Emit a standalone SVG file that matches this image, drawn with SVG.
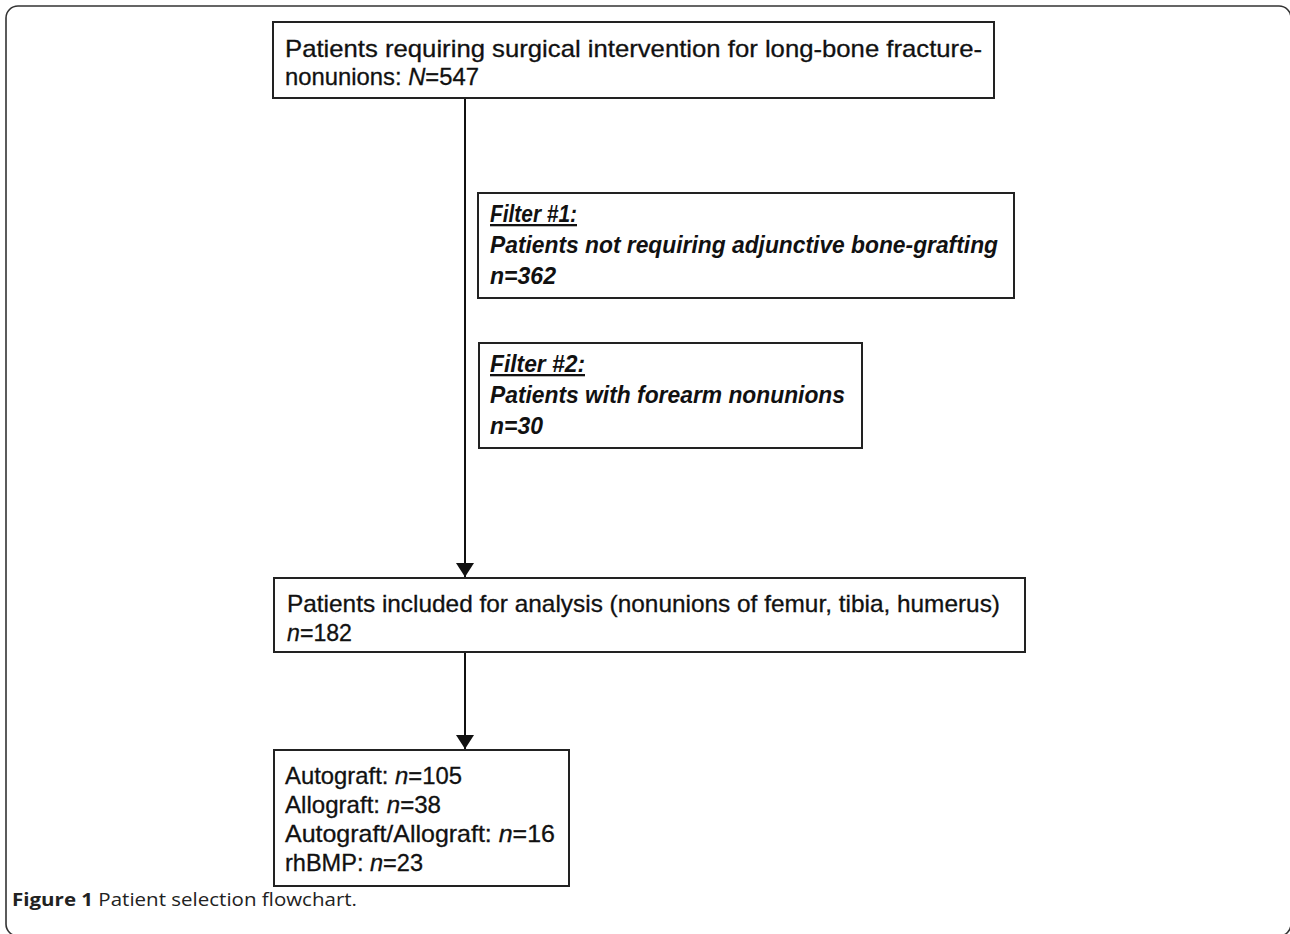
<svg xmlns="http://www.w3.org/2000/svg" width="1290" height="934" viewBox="0 0 1290 934">
<style>
.box{fill:#fff;stroke:#222;stroke-width:2}
.t{font-family:"Liberation Sans",Arial,sans-serif;font-size:24px;fill:#111;stroke:#111;stroke-width:0.3}
.f{font-family:"Liberation Sans",Arial,sans-serif;font-size:23px;font-weight:bold;font-style:italic;fill:#111}
.c{font-family:"Open Sans","Liberation Sans",sans-serif;font-size:18px;fill:#222}
.conn{stroke:#111;stroke-width:2;fill:none}
</style>
<defs>
<marker id="arr" viewBox="0 0 14 18" refX="14" refY="9" markerWidth="14" markerHeight="18" markerUnits="userSpaceOnUse" orient="auto">
<path d="M0,0 L14,9 L0,18 Z" fill="#111"/>
</marker>
</defs>
<rect x="6" y="6" width="1285" height="930" rx="12" fill="none" stroke="#333" stroke-width="1.6"/>
<g id="connectors">
<line class="conn" x1="465" y1="98" x2="465" y2="577" marker-end="url(#arr)"/>
<line class="conn" x1="465" y1="652" x2="465" y2="749" marker-end="url(#arr)"/>
</g>
<g id="n1">
<rect class="box" x="273" y="22" width="721" height="76"/>
<text class="t" x="285" y="57" textLength="697" lengthAdjust="spacingAndGlyphs">Patients requiring surgical intervention for long-bone fracture-</text>
<text class="t" x="285" y="85" textLength="194" lengthAdjust="spacingAndGlyphs">nonunions: <tspan font-style="italic">N</tspan>=547</text>
</g>
<g id="n2">
<rect class="box" x="478" y="193" width="536" height="105"/>
<text class="f" x="490" y="222" textLength="87" lengthAdjust="spacingAndGlyphs" text-decoration="underline">Filter #1:</text>
<text class="f" x="490" y="253" textLength="508" lengthAdjust="spacingAndGlyphs">Patients not requiring adjunctive bone-grafting</text>
<text class="f" x="490" y="284" textLength="66" lengthAdjust="spacingAndGlyphs">n=362</text>
</g>
<g id="n3">
<rect class="box" x="479" y="343" width="383" height="105"/>
<text class="f" x="490" y="372" textLength="95" lengthAdjust="spacingAndGlyphs" text-decoration="underline">Filter #2:</text>
<text class="f" x="490" y="403" textLength="355" lengthAdjust="spacingAndGlyphs">Patients with forearm nonunions</text>
<text class="f" x="490" y="434" textLength="53" lengthAdjust="spacingAndGlyphs">n=30</text>
</g>
<g id="n4">
<rect class="box" x="274" y="578" width="751" height="74"/>
<text class="t" x="287" y="612" textLength="713" lengthAdjust="spacingAndGlyphs">Patients included for analysis (nonunions of femur, tibia, humerus)</text>
<text class="t" x="287" y="641" textLength="65" lengthAdjust="spacingAndGlyphs"><tspan font-style="italic">n</tspan>=182</text>
</g>
<g id="n5">
<rect class="box" x="274" y="750" width="295" height="136"/>
<text class="t" x="285" y="784" textLength="177" lengthAdjust="spacingAndGlyphs">Autograft: <tspan font-style="italic">n</tspan>=105</text>
<text class="t" x="285" y="813" textLength="156" lengthAdjust="spacingAndGlyphs">Allograft: <tspan font-style="italic">n</tspan>=38</text>
<text class="t" x="285" y="842" textLength="270" lengthAdjust="spacingAndGlyphs">Autograft/Allograft: <tspan font-style="italic">n</tspan>=16</text>
<text class="t" x="285" y="871" textLength="138" lengthAdjust="spacingAndGlyphs">rhBMP: <tspan font-style="italic">n</tspan>=23</text>
</g>
<text class="c" x="12" y="906" textLength="345" lengthAdjust="spacingAndGlyphs"><tspan font-weight="bold">Figure 1</tspan> Patient selection flowchart.</text>
</svg>
